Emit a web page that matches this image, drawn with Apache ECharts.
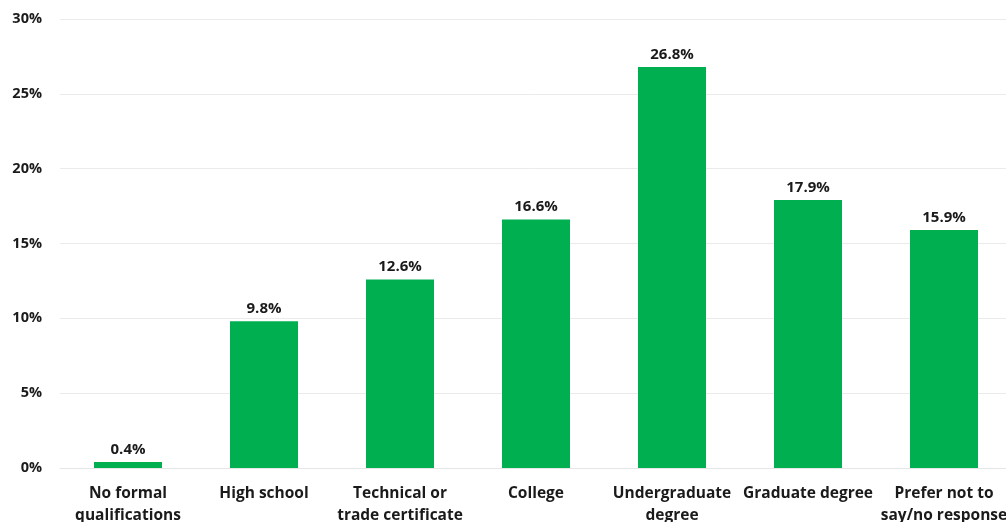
<!DOCTYPE html>
<html>
<head>
<meta charset="utf-8">
<script src="https://cdn.jsdelivr.net/npm/echarts@6/dist/echarts.min.js"></script>
<style>
  html, body { margin: 0; padding: 0; background: #ffffff; }
  #chart { width: 1006px; height: 522px; }
</style>
</head>
<body>
<div id="chart"></div>
<script>
// Highest level of education, share of respondents (%)
const categories = [
  'No formal\nqualifications',
  'High school',
  'Technical or\ntrade certificate',
  'College',
  'Undergraduate\ndegree',
  'Graduate degree',
  'Prefer not to\nsay/no response'
];
const shares = [0.4, 9.8, 12.6, 16.6, 26.8, 17.9, 15.9];
const yTicks = [0, 5, 10, 15, 20, 25, 30];

const FONT = '"Open Sans", "Noto Sans", sans-serif';
const chart = echarts.init(document.getElementById('chart'), null, { renderer: 'canvas' });

chart.setOption({
  animation: false,
  backgroundColor: '#ffffff',
  grid: { left: 60, top: 19, width: 952, height: 449, containLabel: false, outerBoundsMode: 'none' },
  xAxis: {
    type: 'category',
    data: categories,
    axisLine: { show: true, lineStyle: { color: '#e6e6e6', width: 1 } },
    axisTick: { show: false },
    axisLabel: {
      interval: 0,
      margin: 15,
      fontFamily: FONT,
      fontWeight: 'bold',
      fontSize: 15.5,
      lineHeight: 22,
      color: '#1a1a1a'
    }
  },
  yAxis: {
    type: 'value',
    min: yTicks[0],
    max: yTicks[yTicks.length - 1],
    interval: yTicks[1] - yTicks[0],
    axisLine: { show: false },
    axisTick: { show: false },
    splitLine: { lineStyle: { color: '#ebebeb', width: 1 } },
    axisLabel: {
      margin: 18,
      fontFamily: FONT,
      fontWeight: 'bold',
      fontSize: 14.5,
      color: '#1a1a1a',
      formatter: v => v + '%'
    }
  },
  series: [{
    type: 'bar',
    data: shares,
    barWidth: '50%',
    itemStyle: { color: '#00b050' },
    label: {
      show: true,
      position: 'top',
      distance: 5,
      fontFamily: FONT,
      fontWeight: 'bold',
      fontSize: 15,
      color: '#1a1a1a',
      formatter: p => p.value.toFixed(1) + '%'
    }
  }]
});
</script>
</body>
</html>
